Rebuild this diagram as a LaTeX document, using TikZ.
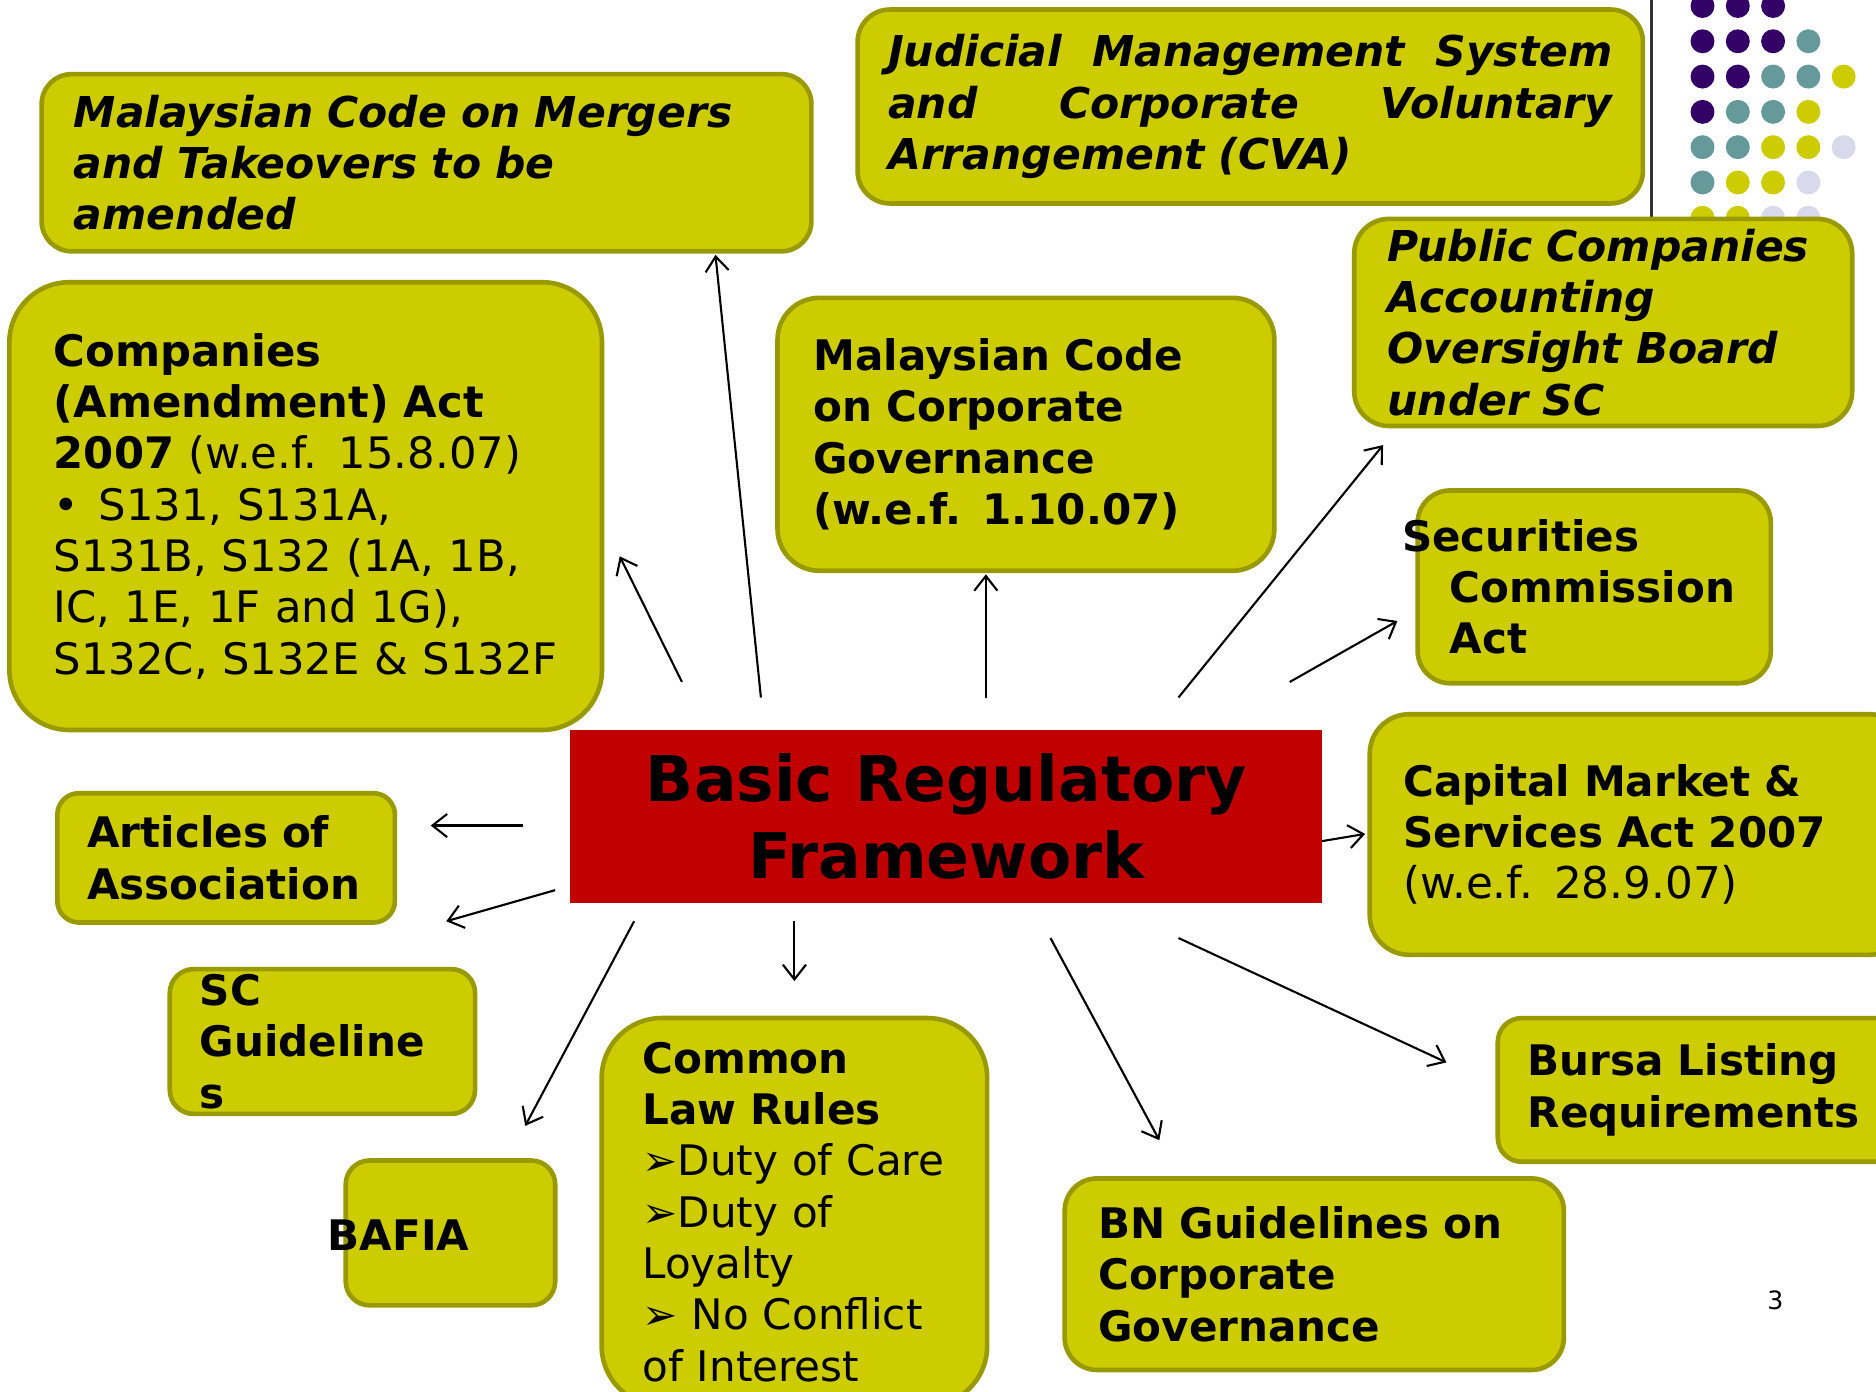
\documentclass[tikz,border=0pt]{standalone}
\usepackage{fontspec}
\setmainfont{DejaVu Sans}
\usetikzlibrary{arrows.meta}

\definecolor{boxfill}{HTML}{CCCC00}
\definecolor{boxline}{HTML}{999900}
\definecolor{brfred}{HTML}{C00000}
\definecolor{dotp}{HTML}{330066}
\definecolor{dott}{HTML}{669999}
\definecolor{doty}{HTML}{CCCC00}
\definecolor{dotl}{HTML}{D9D9EC}

\tikzset{
  ybox/.style={draw=boxline, fill=boxfill, line width=1.1pt, align=left,
    inner xsep=0.27cm, inner ysep=0pt,
    font=\fontsize{10}{12.2}\selectfont\bfseries},
  ibox/.style={ybox, font=\fontsize{10.1}{12.2}\selectfont\bfseries\itshape},
}

\begin{document}
\begin{tikzpicture}[x=0.01cm, y=-0.01cm, line width=0.5pt,
    >={Straight Barb[length=3.5pt,width=5.5pt]}]
\useasboundingbox (0,0) rectangle (1568,1163);
\clip (0,0) rectangle (1568,1163);

% dots in the corner
\foreach \r/\cols in {0/{p,p,p},1/{p,p,p,t},2/{p,p,t,t,y},3/{p,t,t,y},4/{t,t,y,y,l},5/{t,y,y,l},6/{y,y,l,l}} {
    \foreach \c [count=\k from 0] in \cols {
        \fill[dot\c] ({1423+29.5*\k},{5+29.5*\r}) circle (0.1cm);
    }
}
\draw[black!80, line width=0.7pt] (1380,0) -- (1380,185);

% boxes
\node[ibox, text width=5.89cm, minimum height=1.48cm, rounded corners=0.25cm] (mergers) at (356.5,136)
    {Malaysian Code on Mergers\\and Takeovers to be\\amended};
\node[ibox, inner xsep=0.255cm, text width=6.05cm, minimum height=1.62cm, rounded corners=0.27cm] (judicial) at (1045,89)
    {\makebox[6.05cm][l]{Judicial\hfill Management\hfill System}\\\makebox[6.05cm][l]{and\hfill Corporate\hfill Voluntary}\\Arrangement (CVA)};
\node[ibox, inner xsep=0.28cm, text width=3.6cm, minimum height=1.73cm, rounded corners=0.29cm] (public) at (1340,269.5)
    {Public Companies\\Accounting\\Oversight Board\\under SC};
\node[ybox, font=\fontsize{10.3}{12.2}\selectfont\bfseries, inner xsep=0.37cm, text width=4.21cm, minimum height=3.74cm, rounded corners=0.5cm] (companies) at (255.5,423)
    {Companies\\(Amendment) Act\\\mbox{2007 \mdseries(w.e.f. 15.8.07)}\\\mdseries\mbox{•\hspace{0.45em}S131, S131A,}\\\mbox{S131B, S132 (1A, 1B,}\\\mbox{IC, 1E, 1F and 1G),}\\\mbox{S132C, S132E \& S132F}};
\node[ybox, inner xsep=0.30cm, text width=3.55cm, minimum height=2.28cm, rounded corners=0.35cm] (corpgov) at (857.5,363)
    {Malaysian Code\\on Corporate\\Governance\\(w.e.f. 1.10.07)};
\node[ybox, text width=2.41cm, minimum height=1.61cm, rounded corners=0.27cm] (securities) at (1332.5,490.5)
    {\hspace*{-0.4cm}Securities\\Commission\\Act};
\node[ybox, inner xsep=0.28cm, text width=3.94cm, minimum height=2.01cm, rounded corners=0.33cm] (capital) at (1370,697.5)
    {Capital Market \&\\Services Act 2007\\\mdseries\fontsize{10.4}{12.2}\selectfont(w.e.f. 28.9.07)};
\node[ybox, inner xsep=0.25cm, text width=2.32cm, minimum height=1.08cm, rounded corners=0.18cm] (articles) at (189,717)
    {Articles of\\Association};
\node[ybox, inner xsep=0.25cm, text width=2.05cm, minimum height=1.21cm, rounded corners=0.2cm] (scguide) at (269.5,870.5)
    {SC\\Guideline\\s};
\node[ybox, minimum width=1.75cm, minimum height=1.21cm, rounded corners=0.2cm] (bafia) at (376.5,1030.5) {};
\node[font=\fontsize{10}{12.2}\selectfont\bfseries, anchor=west, inner sep=0pt] (bafia-t) at (273,1032) {BAFIA};
\node[ybox, inner xsep=0.34cm, text width=2.54cm, minimum height=3.24cm, rounded corners=0.5cm] (common) at (664,1013)
    {Common\\Law Rules\\\mdseries ➢Duty of Care\\➢Duty of\\Loyalty\\➢ No Conflict\\of Interest};
\node[ybox, inner xsep=0.25cm, text width=2.9cm, minimum height=1.2cm, rounded corners=0.2cm] (bursa) at (1422,911)
    {Bursa Listing\\Requirements};
\node[ybox, inner xsep=0.28cm, text width=3.61cm, minimum height=1.6cm, rounded corners=0.27cm] (bn) at (1098.5,1065)
    {BN Guidelines on\\Corporate\\Governance};

% centre box
\node[fill=brfred, minimum width=6.28cm, minimum height=1.45cm, align=center,
    font=\fontsize{15}{18.2}\selectfont\bfseries] (brf) at (791,682.5) {Basic Regulatory\\Framework};

% arrows out of the centre
\foreach \n/\tx/\ty/\hx/\hy in {mergers/636/583/598/213, companies/570/570/518/465,
    corpgov/824/583/824/480, public/985/583/1156/372, securities/1078/570/1168/519,
    capital/1105/703/1141/697, articles/437/690/360/690, scguide/464/744/373/770,
    bafia/530/770/439/941, common/664/770/664/820, bn/878/784/969/953, bursa/985/784/1209/888} {
    \coordinate (\n-from) at (\tx,\ty);
    \coordinate (\n-to) at (\hx,\hy);
    \draw[->] (\n-from) -- (\n-to);
}

\node[font=\fontsize{6}{7}\selectfont] (pagenum) at (1484,1087) {3};
\end{tikzpicture}
\end{document}
